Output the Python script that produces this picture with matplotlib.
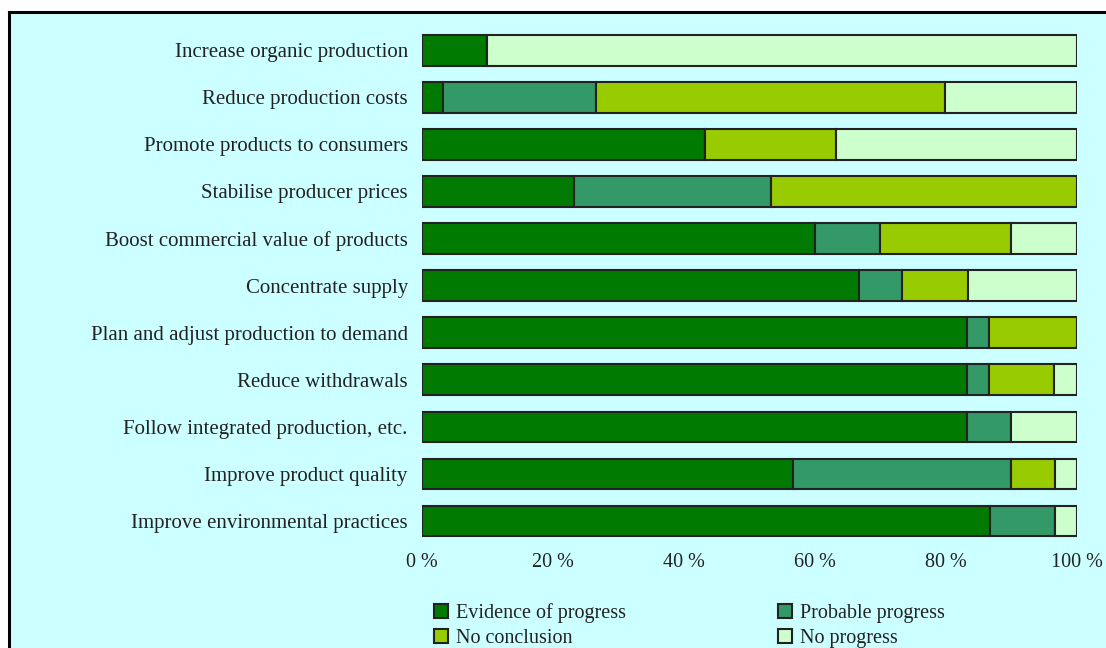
import numpy as np
import matplotlib.pyplot as plt
from matplotlib.patches import Rectangle, Patch
from matplotlib.lines import Line2D

categories = [
    "Increase organic production",
    "Reduce production costs",
    "Promote products to consumers",
    "Stabilise producer prices",
    "Boost commercial value of products",
    "Concentrate supply",
    "Plan and adjust production to demand",
    "Reduce withdrawals",
    "Follow integrated production, etc.",
    "Improve product quality",
    "Improve environmental practices",
]
evidence = [10.0, 3.3, 43.3, 23.3, 60.0, 66.7, 83.3, 83.3, 83.3, 56.7, 86.7]
probable = [0.0, 23.3, 0.0, 30.0, 10.0, 6.7, 3.3, 3.3, 6.7, 33.3, 10.0]
no_conclusion = [0.0, 53.3, 20.0, 46.7, 20.0, 10.0, 13.4, 10.0, 0.0, 6.7, 0.0]
no_progress = [90.0, 20.1, 36.7, 0.0, 10.0, 16.6, 0.0, 3.4, 10.0, 3.3, 3.3]

series = ["Evidence of progress", "Probable progress", "No conclusion", "No progress"]
colors = ["#007a00", "#339966", "#99cc00", "#ccffcc"]
xticks = [0, 20, 40, 60, 80, 100]
xticklabels = ["0 %", "20 %", "40 %", "60 %", "80 %", "100 %"]

plt.rcParams["font.family"] = ["Liberation Serif", "DejaVu Serif"]

W, H = 1106, 648
fig = plt.figure(figsize=(W / 100, H / 100), dpi=100, facecolor="white")

# cyan panel with black top/left border
bx, by = 9 / W, 1 - 12 / H
fig.patches.append(Rectangle((bx, -0.01), 1.1, by + 0.01, transform=fig.transFigure,
                             facecolor="#ccffff", edgecolor="none", zorder=-10))
fig.lines.append(Line2D([bx, bx], [-0.01, by], transform=fig.transFigure,
                        color="black", lw=2.2, zorder=-9))
fig.lines.append(Line2D([bx, 1.01], [by, by], transform=fig.transFigure,
                        color="black", lw=2.2, zorder=-9))

ax = fig.add_axes([421.7 / W, 1 - 544.5 / H, 655 / W, 517.75 / H])
ax.set_facecolor("none")
ax.set_zorder(2)

y = np.arange(len(categories))
left = np.zeros(len(categories))
for vals, col in zip([evidence, probable, no_conclusion, no_progress], colors):
    vals = np.array(vals)
    ax.barh(y, vals, left=left, height=0.65, color=col, edgecolor="#222222", linewidth=1.5)
    left += vals

ax.set_xlim(0, 100)
ax.set_ylim(len(categories) - 0.5, -0.5)
ax.set_yticks(y)
ax.set_yticklabels(categories, fontsize=15, color="#222222")
ax.set_xticks(xticks)
ax.set_xticklabels(xticklabels, fontsize=14.5, color="#222222")
ax.tick_params(length=0)
ax.tick_params(axis="y", pad=10)
ax.tick_params(axis="x", pad=6)
for s in ax.spines.values():
    s.set_visible(False)

handles = [Patch(facecolor=c, edgecolor="#222222", linewidth=1.5) for c in colors]
order = [0, 2, 1, 3]
leg = fig.legend([handles[i] for i in order], [series[i] for i in order],
                 ncol=2, loc="upper left", bbox_to_anchor=(434 / W, 1 - 603 / H),
                 frameon=False, fontsize=14.5, handlelength=0.7, handleheight=0.7,
                 handletextpad=0.4, columnspacing=7.55, labelspacing=0.3,
                 borderpad=0, borderaxespad=0, labelcolor="#222222")
leg.set_zorder(3)

fig.savefig("out.png", dpi=100, facecolor="white")
